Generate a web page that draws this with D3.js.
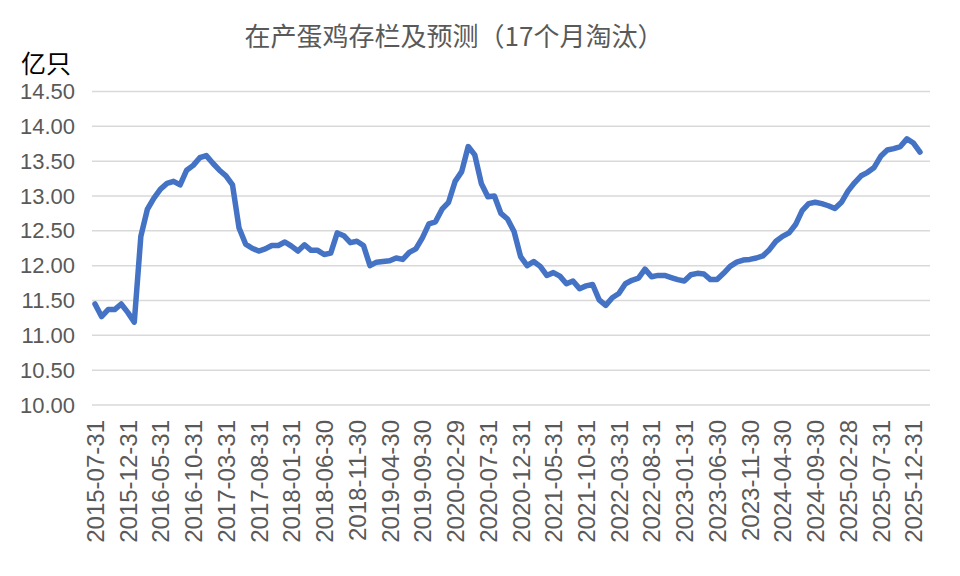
<!DOCTYPE html>
<html><head><meta charset="utf-8">
<script src="https://cdn.jsdelivr.net/npm/d3@7"></script>
<style>body{margin:0;background:#fff}</style>
</head><body>
<svg id="c" width="960" height="576"></svg>
<script>
const title = "在产蛋鸡存栏及预测（17个月淘汰）";
const unitLabel = "亿只";
const startMonth = "2015-07";
const values = [
11.45,11.27,11.37,11.37,11.45,11.33,11.19,12.42,12.81,12.97,13.10,13.18,13.21,13.16,13.37,13.44,13.55,13.58,13.47,13.37,
13.29,13.16,12.54,12.31,12.25,12.21,12.24,12.29,12.29,12.34,12.28,12.21,12.30,12.22,12.22,12.16,12.18,12.47,12.43,12.33,
12.35,12.29,12.00,12.05,12.06,12.07,12.11,12.09,12.19,12.24,12.40,12.60,12.63,12.81,12.91,13.21,13.35,13.71,13.59,13.18,
12.99,13.00,12.75,12.67,12.49,12.13,12.00,12.06,11.99,11.86,11.90,11.85,11.74,11.78,11.67,11.71,11.73,11.51,11.43,11.54,
11.60,11.74,11.79,11.82,11.95,11.84,11.86,11.86,11.83,11.80,11.78,11.87,11.89,11.88,11.80,11.80,11.89,11.99,12.05,12.08,
12.09,12.11,12.14,12.23,12.35,12.42,12.47,12.59,12.79,12.89,12.91,12.89,12.86,12.82,12.91,13.07,13.19,13.29,13.34,13.41,
13.57,13.66,13.68,13.71,13.82,13.76,13.63
];
const yTicks = [10.0,10.5,11.0,11.5,12.0,12.5,13.0,13.5,14.0,14.5];
const xTickLabels = ["2015-07-31","2015-12-31","2016-05-31","2016-10-31","2017-03-31","2017-08-31","2018-01-31","2018-06-30","2018-11-30","2019-04-30","2019-09-30","2020-02-29","2020-07-31","2020-12-31","2021-05-31","2021-10-31","2022-03-31","2022-08-31","2023-01-31","2023-06-30","2023-11-30","2024-04-30","2024-09-30","2025-02-28","2025-07-31","2025-12-31"];

// month-end category labels derived from the start month
const fmt = d3.utcFormat("%Y-%m-%d");
const start = d3.utcParse("%Y-%m")(startMonth);
const categories = values.map((v,i)=> fmt(d3.utcDay.offset(d3.utcMonth.offset(start, i+1), -1)));
const data = categories.map((c,i)=>({c, v: values[i]}));

const svg = d3.select("#c");
const left = 92, right = 930;
const x = d3.scalePoint().domain(categories).range([95, 920]);
const y = d3.scaleLinear().domain([10, 14.5]).range([405, 91.5]);

svg.append("text").attr("x", 454).attr("y", 46).attr("text-anchor","middle")
  .attr("font-family","'Noto Sans CJK SC', sans-serif").attr("font-size", 26).attr("fill","#595959").text(title);
svg.append("text").attr("x", 21).attr("y", 73)
  .attr("font-family","'Noto Sans CJK SC', sans-serif").attr("font-size", 25).attr("fill","#000").text(unitLabel);

const grid = svg.append("g");
grid.selectAll("line").data(yTicks).join("line")
  .attr("x1", left).attr("x2", right).attr("y1", d=>y(d)).attr("y2", d=>y(d))
  .attr("stroke","#d9d9d9").attr("stroke-width",1.5);

const yAxis = svg.append("g").attr("transform",`translate(${left},0)`)
  .call(d3.axisLeft(y).tickValues(yTicks).tickFormat(d3.format(".2f")).tickSize(0).tickPadding(17));
yAxis.select(".domain").remove();
yAxis.selectAll("text").attr("font-family","'Liberation Sans', Arial, sans-serif").attr("font-size",22).attr("fill","#595959");

const xAxis = svg.append("g").attr("transform",`translate(0,405)`)
  .call(d3.axisBottom(x).tickValues(xTickLabels).tickSize(0));
xAxis.select(".domain").remove();
xAxis.selectAll("text")
  .attr("font-family","'Liberation Sans', Arial, sans-serif").attr("font-size",24).attr("fill","#595959")
  .attr("text-anchor","end").attr("transform","rotate(-90)")
  .attr("x",-15).attr("y",0).attr("dy","0.35em");

const line = d3.line().x(d=>x(d.c)).y(d=>y(d.v));
svg.append("path").datum(data).attr("d", line).attr("fill","none")
  .attr("stroke","#4472C4").attr("stroke-width",5.5).attr("stroke-linejoin","round").attr("stroke-linecap","round");
</script>
</body></html>
